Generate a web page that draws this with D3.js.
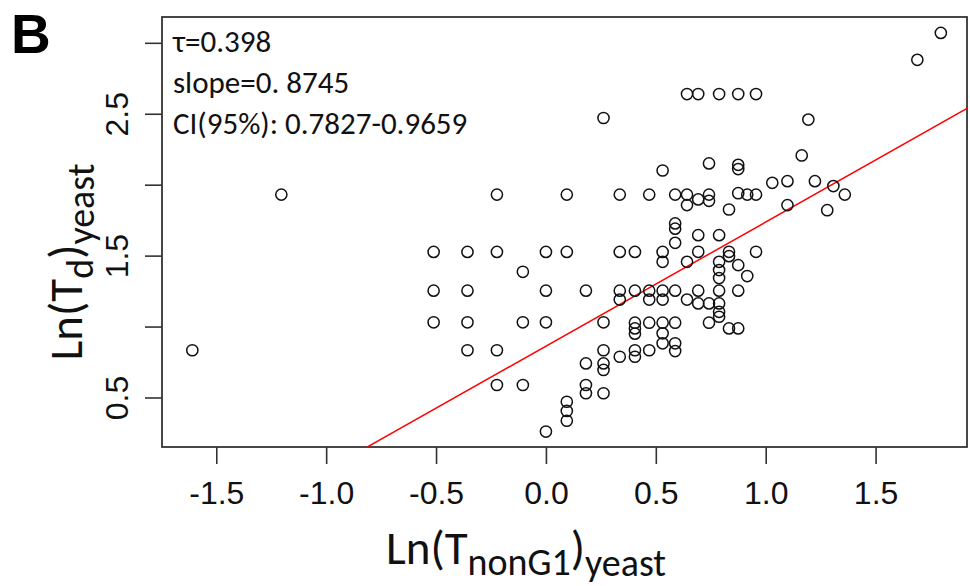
<!DOCTYPE html>
<html>
<head>
<meta charset="utf-8">
<script src="https://cdn.jsdelivr.net/npm/d3@7/dist/d3.min.js"></script>
<style>
  body { margin: 0; background: #fff; }
  svg { display: block; }
</style>
</head>
<body>
<svg id="chart" width="970" height="586"></svg>
<script>
// Axis ticks and labels
const xTicks = [-1.5, -1.0, -0.5, 0.0, 0.5, 1.0, 1.5];
const xTickLabels = ["-1.5", "-1.0", "-0.5", "0.0", "0.5", "1.0", "1.5"];
const yTicks = [0.5, 1.0, 1.5, 2.0, 2.5, 3.0];
const yTickLabels = ["0.5", "", "1.5", "", "2.5", ""];
const xLimits = [-1.747, 1.916];
const yLimits = [0.151, 3.182];

// Observations: Ln(T_nonG1) and Ln(T_d), yeast
const lnTnonG1 = [
  -1.609,
  -1.204,
  -0.511, -0.511, -0.511,
  -0.357, -0.357, -0.357, -0.357,
  -0.223, -0.223, -0.223, -0.223,
  -0.105, -0.105, -0.105,
  0.0, 0.0, 0.0, 0.0,
  0.095, 0.095, 0.095, 0.095, 0.095,
  0.182, 0.182, 0.182, 0.182,
  0.262, 0.262, 0.262, 0.262, 0.262, 0.262,
  0.336, 0.336, 0.336, 0.336, 0.336,
  0.405, 0.405, 0.405, 0.405, 0.405, 0.405, 0.405,
  0.470, 0.470, 0.470, 0.470, 0.470,
  0.531, 0.531, 0.531, 0.531, 0.531, 0.531, 0.531, 0.531,
  0.588, 0.588, 0.588, 0.588, 0.588, 0.588, 0.588, 0.588,
  0.642, 0.642, 0.642, 0.642, 0.642,
  0.693, 0.693, 0.693, 0.693, 0.693, 0.693,
  0.742, 0.742, 0.742, 0.742, 0.742,
  0.788, 0.788, 0.788, 0.788, 0.788, 0.788, 0.788, 0.788, 0.788,
  0.833, 0.833, 0.833, 0.833,
  0.875, 0.875, 0.875, 0.875, 0.875, 0.875, 0.875,
  0.916, 0.916,
  0.956, 0.956, 0.956,
  1.030,
  1.099, 1.099,
  1.164,
  1.194,
  1.224,
  1.280,
  1.308,
  1.360,
  1.690,
  1.797
];
const lnTd = [
  0.833,
  1.930,
  1.526, 1.253, 1.030,
  1.526, 1.253, 1.030, 0.833,
  1.930, 1.526, 0.833, 0.588,
  1.386, 1.030, 0.588,
  1.526, 1.253, 1.030, 0.260,
  1.930, 1.526, 0.470, 0.405, 0.336,
  1.253, 0.740, 0.588, 0.530,
  2.470, 1.030, 0.833, 0.740, 0.694, 0.530,
  1.930, 1.526, 1.253, 1.190, 0.787,
  1.526, 1.253, 1.027, 0.987, 0.950, 0.833, 0.787,
  1.930, 1.253, 1.190, 1.027, 0.833,
  2.100, 1.526, 1.456, 1.253, 1.190, 1.027, 0.952, 0.882,
  1.930, 1.727, 1.690, 1.590, 1.253, 1.027, 0.882, 0.827,
  2.639, 1.930, 1.856, 1.456, 1.190,
  2.639, 1.896, 1.644, 1.527, 1.253, 1.163,
  2.150, 1.930, 1.886, 1.163, 1.027,
  2.639, 1.644, 1.456, 1.398, 1.342, 1.253, 1.163, 1.104, 1.069,
  1.825, 1.527, 1.496, 0.987,
  2.639, 2.140, 2.110, 1.940, 1.433, 1.253, 0.987,
  1.930, 1.356,
  2.639, 1.930, 1.527,
  2.013,
  2.025, 1.856,
  2.206,
  2.459,
  2.025,
  1.820,
  1.990,
  1.930,
  2.880,
  3.070
];

// Fitted line and summary statistics
const fitSlope = 0.8745;
const fitIntercept = 0.862;
const statLines = ["τ=0.398", "slope=0. 8745", "CI(95%): 0.7827-0.9659"];

const points = lnTnonG1.map((x, i) => ({ x, y: lnTd[i] }));

const svg = d3.select("#chart");
const plot = { left: 162, right: 967, top: 17, bottom: 447 };

const x = d3.scaleLinear().domain(xLimits).range([plot.left, plot.right]);
const y = d3.scaleLinear().domain(yLimits).range([plot.bottom, plot.top]);

const axisColor = "#333";
const tickFont = "'Liberation Sans', Arial, sans-serif";
const textFont = "Calibri, Carlito, 'Open Sans', sans-serif";

// x axis
const xAxis = svg.append("g")
  .attr("transform", `translate(0,${plot.bottom})`)
  .call(d3.axisBottom(x).tickValues(xTicks).tickSize(17)
    .tickFormat((d, i) => xTickLabels[i]));
xAxis.select(".domain").remove();
xAxis.selectAll(".tick line").attr("stroke", axisColor).attr("stroke-width", 1.6);
xAxis.selectAll(".tick text")
  .attr("font-family", tickFont).attr("font-size", 32).attr("fill", "#111")
  .attr("dy", 0).attr("y", 57);

// y axis
const yAxis = svg.append("g")
  .attr("transform", `translate(${plot.left},0)`)
  .call(d3.axisLeft(y).tickValues(yTicks).tickSize(17)
    .tickFormat((d, i) => yTickLabels[i]));
yAxis.select(".domain").remove();
yAxis.selectAll(".tick line").attr("stroke", axisColor).attr("stroke-width", 1.6);
yAxis.selectAll(".tick text")
  .attr("font-family", tickFont).attr("font-size", 32).attr("fill", "#111")
  .attr("x", null).attr("dy", null)
  .attr("text-anchor", "middle")
  .attr("transform", "translate(-34,0) rotate(-90)");

// plot frame
svg.append("rect")
  .attr("x", plot.left).attr("y", plot.top)
  .attr("width", plot.right - plot.left).attr("height", plot.bottom - plot.top)
  .attr("fill", "none").attr("stroke", axisColor).attr("stroke-width", 1.8);

// regression line, clipped to the plotting region
svg.append("clipPath").attr("id", "plot-clip")
  .append("rect")
  .attr("x", plot.left).attr("y", plot.top)
  .attr("width", plot.right - plot.left).attr("height", plot.bottom - plot.top);

svg.append("line")
  .attr("clip-path", "url(#plot-clip)")
  .attr("x1", x(xLimits[0])).attr("y1", y(fitIntercept + fitSlope * xLimits[0]))
  .attr("x2", x(xLimits[1])).attr("y2", y(fitIntercept + fitSlope * xLimits[1]))
  .attr("stroke", "#ff0000").attr("stroke-width", 1.5);

// points
svg.append("g").selectAll("circle")
  .data(points)
  .join("circle")
  .attr("cx", d => x(d.x))
  .attr("cy", d => y(d.y))
  .attr("r", 5.6)
  .attr("fill", "none")
  .attr("stroke", "#111")
  .attr("stroke-width", 1.5);

// summary statistics
svg.append("g").selectAll("text")
  .data(statLines)
  .join("text")
  .attr("x", 173)
  .attr("y", (d, i) => 52 + i * 41)
  .attr("font-family", textFont)
  .attr("font-size", 31)
  .attr("fill", "#111")
  .text(d => d);

// axis titles
const xTitle = svg.append("text")
  .attr("x", 386).attr("y", 564)
  .attr("font-family", textFont).attr("fill", "#111");
xTitle.append("tspan").attr("font-size", 47).text("Ln(T");
xTitle.append("tspan").attr("font-size", 38).attr("dy", 11).text("nonG1");
xTitle.append("tspan").attr("font-size", 47).attr("dy", -11).text(")");
xTitle.append("tspan").attr("font-size", 38).attr("dy", 12).text("yeast");

const yTitle = svg.append("text")
  .attr("transform", "translate(82,262) rotate(-90)")
  .attr("text-anchor", "middle")
  .attr("font-family", textFont).attr("fill", "#111");
yTitle.append("tspan").attr("font-size", 47).text("Ln(T");
yTitle.append("tspan").attr("font-size", 38).attr("dy", 11).text("d");
yTitle.append("tspan").attr("font-size", 47).attr("dy", -11).text(")");
yTitle.append("tspan").attr("font-size", 38).attr("dy", 12).text("yeast");

// panel letter
svg.append("text")
  .attr("x", 11).attr("y", 53)
  .attr("font-family", "'Liberation Sans', Arial, sans-serif")
  .attr("font-weight", "bold").attr("font-size", 55)
  .attr("fill", "#000")
  .text("B");
</script>
</body>
</html>
